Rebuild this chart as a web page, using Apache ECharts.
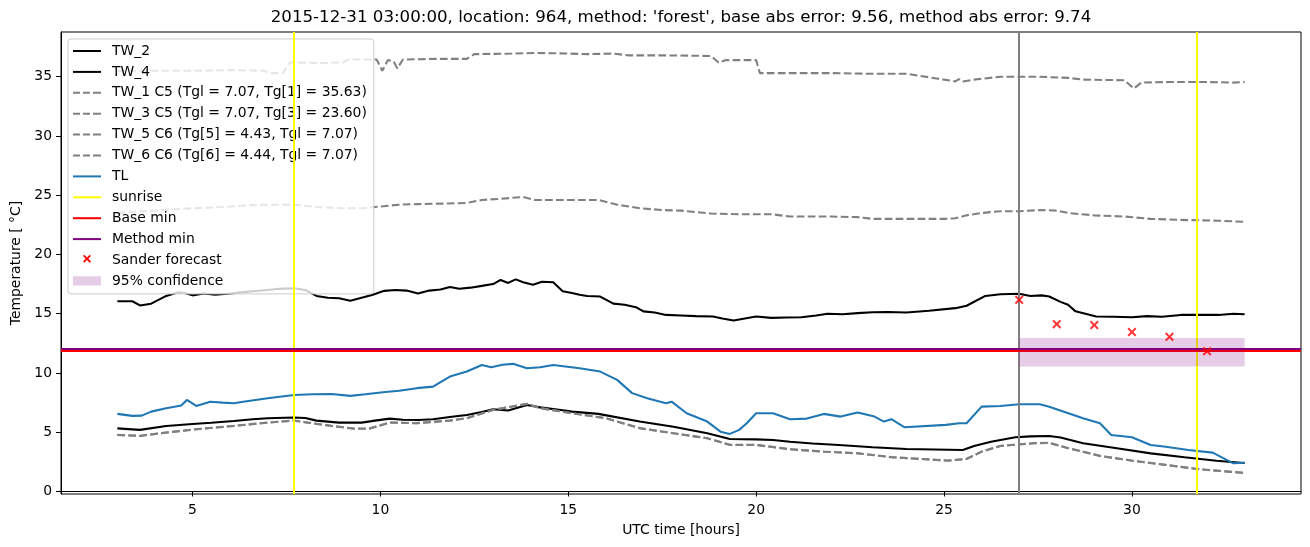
<!DOCTYPE html>
<html><head><meta charset="utf-8">
<script src="https://cdn.jsdelivr.net/npm/echarts@6/dist/echarts.min.js"></script>
<style>html,body{margin:0;padding:0;background:#fff}#c{width:1310px;height:547px}</style>
</head><body><div id="c"></div>
<script>
const titleText = "2015-12-31 03:00:00, location: 964, method: 'forest', base abs error: 9.56, method abs error: 9.74";
const xAxisName = "UTC time [hours]";
const yAxisName = "Temperature [ °C]";
const xTicks = [5, 10, 15, 20, 25, 30];
const yTicks = [0, 5, 10, 15, 20, 25, 30, 35];

const tw2 = [[3.0,16.05],[3.4,16.05],[3.6,15.7],[3.9,15.85],[4.3,16.5],[4.6,16.8],[4.8,16.75],[5.0,16.55],[5.3,16.7],[5.6,16.6],[6.0,16.7],[6.3,16.8],[6.6,16.9],[7.0,17.0],[7.3,17.1],[7.7,17.15],[8.0,17.0],[8.3,16.5],[8.6,16.35],[8.9,16.3],[9.2,16.1],[9.5,16.35],[9.8,16.6],[10.1,16.93],[10.4,17.0],[10.7,16.95],[11.0,16.7],[11.3,16.95],[11.6,17.05],[11.85,17.25],[12.1,17.1],[12.4,17.2],[12.7,17.35],[13.0,17.5],[13.2,17.85],[13.4,17.6],[13.6,17.9],[13.8,17.65],[14.06,17.45],[14.3,17.7],[14.6,17.65],[14.85,16.9],[15.1,16.75],[15.3,16.6],[15.5,16.5],[15.85,16.45],[16.2,15.85],[16.5,15.75],[16.8,15.55],[17.0,15.2],[17.3,15.1],[17.6,14.9],[18.0,14.85],[18.4,14.8],[18.85,14.77],[19.1,14.6],[19.4,14.43],[19.7,14.6],[20.0,14.77],[20.4,14.65],[20.8,14.68],[21.2,14.7],[21.6,14.85],[21.9,15.0],[22.3,14.95],[22.7,15.05],[23.1,15.13],[23.5,15.15],[24.0,15.1],[24.6,15.25],[25.3,15.47],[25.6,15.67],[26.1,16.5],[26.5,16.65],[27.0,16.68],[27.3,16.5],[27.6,16.55],[27.8,16.45],[28.1,16.0],[28.3,15.75],[28.5,15.2],[29.05,14.77],[29.5,14.75],[30.0,14.7],[30.4,14.8],[30.8,14.75],[31.3,14.9],[31.8,14.9],[32.3,14.9],[32.7,15.0],[33.0,14.95]];

const tw4 = [[3.0,5.33],[3.6,5.2],[4.3,5.53],[5.0,5.7],[5.5,5.8],[6.1,5.95],[6.6,6.1],[7.0,6.18],[7.7,6.24],[8.0,6.2],[8.3,5.98],[8.9,5.81],[9.5,5.81],[9.9,6.0],[10.25,6.15],[10.6,6.05],[11.0,6.04],[11.4,6.1],[11.9,6.3],[12.3,6.46],[12.7,6.7],[13.0,6.94],[13.4,6.83],[13.9,7.3],[14.25,7.1],[14.8,6.88],[15.1,6.74],[15.8,6.55],[16.9,5.9],[17.8,5.47],[18.7,4.91],[19.3,4.43],[20.0,4.4],[20.45,4.35],[20.9,4.2],[21.5,4.05],[22.2,3.93],[23.1,3.73],[24.0,3.59],[25.5,3.5],[25.8,3.84],[26.25,4.2],[26.9,4.58],[27.3,4.65],[27.8,4.69],[28.1,4.55],[28.7,4.07],[29.6,3.65],[30.5,3.22],[31.4,2.89],[32.25,2.6],[32.9,2.43],[33.0,2.4]];

const tw1 = [[3.0,35.5],[4.0,35.5],[5.0,35.5],[6.0,35.55],[6.9,35.5],[7.05,35.3],[7.4,35.3],[7.6,36.2],[8.5,36.15],[9.0,36.2],[9.15,36.45],[9.9,36.45],[10.05,35.5],[10.2,36.4],[10.35,36.3],[10.45,35.7],[10.6,36.45],[11.5,36.5],[12.3,36.5],[12.5,36.9],[13.5,36.95],[14.2,37.0],[15.0,36.95],[15.5,36.9],[16.2,36.95],[16.6,36.8],[17.5,36.8],[18.8,36.75],[19.0,36.2],[19.2,36.4],[20.0,36.4],[20.1,35.3],[21.0,35.3],[22.0,35.3],[23.0,35.25],[24.0,35.25],[24.8,34.85],[25.3,34.6],[25.4,34.8],[25.5,34.6],[25.8,34.75],[26.5,35.0],[27.5,35.0],[28.3,34.9],[28.7,34.75],[29.8,34.7],[30.05,34.0],[30.25,34.5],[31.0,34.55],[32.0,34.55],[32.7,34.5],[33.0,34.55]];

const tw3 = [[3.0,23.5],[3.5,23.6],[4.2,23.75],[5.0,23.9],[5.8,24.0],[6.5,24.15],[7.0,24.2],[7.7,24.2],[8.3,24.0],[9.0,23.9],[9.5,23.9],[9.7,23.95],[10.0,24.05],[10.5,24.2],[11.0,24.25],[11.8,24.3],[12.3,24.35],[12.7,24.6],[13.2,24.7],[13.8,24.85],[14.1,24.6],[14.5,24.6],[15.0,24.6],[15.8,24.6],[16.3,24.2],[16.9,23.9],[17.5,23.75],[18.0,23.7],[18.8,23.45],[19.5,23.4],[20.4,23.4],[20.9,23.2],[22.0,23.2],[22.7,23.15],[23.1,23.0],[24.0,23.0],[25.0,23.0],[25.3,23.05],[25.6,23.3],[26.0,23.5],[26.5,23.65],[27.0,23.65],[27.6,23.75],[28.0,23.7],[28.3,23.5],[29.0,23.3],[29.8,23.2],[30.5,23.0],[31.5,22.9],[32.3,22.85],[33.0,22.75]];

const tw5 = [[3.0,4.78],[3.6,4.7],[4.3,4.98],[5.2,5.29],[6.1,5.54],[7.0,5.82],[7.7,5.99],[8.3,5.71],[8.7,5.54],[9.3,5.31],[9.7,5.31],[10.25,5.82],[10.97,5.77],[11.85,5.99],[12.3,6.19],[13.0,6.89],[13.9,7.4],[14.25,7.04],[15.1,6.61],[16.0,6.19],[16.9,5.35],[17.8,4.92],[18.7,4.5],[19.3,3.94],[20.0,3.94],[20.9,3.57],[21.8,3.37],[22.7,3.23],[23.6,2.9],[24.5,2.73],[25.1,2.61],[25.6,2.75],[26.0,3.37],[26.5,3.85],[27.4,4.08],[27.8,4.11],[28.25,3.71],[29.15,3.01],[30.0,2.61],[30.9,2.25],[31.8,1.88],[32.9,1.6],[33.0,1.59]];

const tw6 = [[3.0,4.77],[3.6,4.69],[4.3,4.97],[5.2,5.28],[6.1,5.53],[7.0,5.81],[7.7,5.98],[8.3,5.7],[8.7,5.53],[9.3,5.3],[9.7,5.3],[10.25,5.81],[10.97,5.76],[11.85,5.98],[12.3,6.18],[13.0,6.88],[13.9,7.39],[14.25,7.03],[15.1,6.6],[16.0,6.18],[16.9,5.34],[17.8,4.91],[18.7,4.49],[19.3,3.93],[20.0,3.93],[20.9,3.56],[21.8,3.36],[22.7,3.22],[23.6,2.89],[24.5,2.72],[25.1,2.6],[25.6,2.74],[26.0,3.36],[26.5,3.84],[27.4,4.07],[27.8,4.1],[28.25,3.7],[29.15,3.0],[30.0,2.6],[30.9,2.24],[31.8,1.87],[32.9,1.59],[33.0,1.58]];

const tl = [[3.0,6.55],[3.4,6.38],[3.65,6.4],[3.9,6.74],[4.3,7.03],[4.7,7.25],[4.85,7.73],[5.1,7.22],[5.47,7.58],[5.8,7.5],[6.1,7.45],[6.35,7.58],[7.0,7.87],[7.7,8.15],[8.2,8.2],[8.7,8.23],[9.2,8.07],[9.6,8.2],[10.07,8.38],[10.5,8.5],[10.97,8.72],[11.4,8.85],[11.85,9.7],[12.3,10.12],[12.7,10.68],[12.95,10.49],[13.25,10.7],[13.53,10.77],[13.9,10.4],[14.25,10.49],[14.6,10.68],[15.3,10.4],[15.85,10.12],[16.3,9.42],[16.7,8.3],[17.1,7.87],[17.6,7.45],[17.75,7.58],[18.15,6.6],[18.7,5.9],[19.05,5.05],[19.3,4.86],[19.55,5.2],[19.75,5.76],[20.0,6.6],[20.45,6.6],[20.9,6.1],[21.35,6.15],[21.8,6.55],[22.25,6.32],[22.7,6.66],[23.15,6.32],[23.4,5.9],[23.6,6.1],[23.95,5.42],[25.05,5.62],[25.4,5.76],[25.6,5.76],[26.0,7.16],[26.5,7.22],[27.0,7.36],[27.55,7.36],[27.8,7.16],[28.7,6.18],[29.15,5.76],[29.45,4.77],[30.0,4.58],[30.5,3.93],[30.9,3.78],[31.5,3.5],[32.15,3.28],[32.7,2.38],[33.0,2.43]];

const sunriseHours = [7.7, 31.72];
const forecastStartHour = [27.0];
const baseMinValue = [11.9];
const methodMinValue = [12.05];
const sanderHours = [27, 28, 29, 30, 31, 32];
const sanderValues = [16.17, 14.12, 14.04, 13.45, 13.05, 11.84];
const confHours = [27, 33];
const confRange = [10.54, 12.96];

const FONT = "DejaVu Sans";
const DASH = [7.7, 3.3];
const X_PATH = 'path://M0,1.3L1.3,0L4,2.7L6.7,0L8,1.3L5.3,4L8,6.7L6.7,8L4,5.3L1.3,8L0,6.7L2.7,4Z';
const LEG_SOLID = 'path://M0,0H28V2H0Z';
const LEG_DASH = 'path://M0,0H7V2H0ZM10,0H17V2H10ZM20,0H28V2H20Z';
const LEG_X = 'path://M0,0M28,14M10,3L11.3,1.7L14,4.4L16.7,1.7L18,3L15.3,5.7L18,8.4L16.7,9.7L14,7L11.3,9.7L10,8.4L12.7,5.7Z';
const LEG_PATCH = 'path://M0,0H28V9.3H0Z';

function lineSeries(name, data, color, dashed) {
  return {
    type: 'line', name: name, data: data, symbol: 'none', showSymbol: false,
    lineStyle: { color: color, width: 2.08, type: dashed ? DASH : 'solid', cap: 'butt' },
    itemStyle: { color: color }, silent: true, z: 2
  };
}

const series = [
  lineSeries('TW_2', tw2, '#000000', false),
  lineSeries('TW_4', tw4, '#000000', false),
  lineSeries('TW_1 C5 (Tgl = 7.07, Tg[1] = 35.63)', tw1, '#808080', true),
  lineSeries('TW_3 C5 (Tgl = 7.07, Tg[3] = 23.60)', tw3, '#808080', true),
  lineSeries('TW_5 C6 (Tg[5] = 4.43, Tgl = 7.07)', tw5, '#808080', true),
  lineSeries('TW_6 C6 (Tg[6] = 4.44, Tgl = 7.07)', tw6, '#808080', true),
  lineSeries('TL', tl, '#1f77b4', false),
  {
    type: 'line', name: 'forecast start', data: [], silent: true,
    markLine: { symbol: 'none', silent: true, label: { show: false }, animation: false,
      lineStyle: { color: '#808080', width: 2, type: 'solid' },
      data: forecastStartHour.map(h => ({ xAxis: h })) }
  },
  {
    type: 'line', name: 'sunrise', data: [], itemStyle: { color: '#ffff00' }, silent: true,
    markLine: { symbol: 'none', silent: true, label: { show: false }, animation: false,
      lineStyle: { color: '#ffff00', width: 2, type: 'solid' },
      data: sunriseHours.map(h => ({ xAxis: h })) }
  },
  {
    type: 'line', name: 'Base min', data: [], itemStyle: { color: '#ff0000' }, silent: true,
    markLine: { symbol: 'none', silent: true, label: { show: false }, animation: false,
      lineStyle: { color: '#ff0000', width: 2.08, type: 'solid' },
      data: baseMinValue.map(v => ({ yAxis: v })) }
  },
  {
    type: 'line', name: 'Method min', data: [], itemStyle: { color: '#800080' }, silent: true,
    markLine: { symbol: 'none', silent: true, label: { show: false }, animation: false,
      lineStyle: { color: '#800080', width: 2.08, type: 'solid' },
      data: methodMinValue.map(v => ({ yAxis: v })) }
  },
  {
    type: 'scatter', name: 'Sander forecast', silent: true, z: 6,
    data: sanderHours.map((h, i) => [h, sanderValues[i]]),
    symbol: X_PATH, symbolSize: 9, itemStyle: { color: '#ff0000' }
  },
  {
    type: 'line', name: '95% confidence', data: [], silent: true, itemStyle: { color: 'rgba(128,0,128,0.2)' },
    markArea: { silent: true, z: 6, itemStyle: { color: 'rgba(128,0,128,0.2)' }, label: { show: false },
      data: [[{ xAxis: confHours[0], yAxis: confRange[0] }, { xAxis: confHours[1], yAxis: confRange[1] }]] }
  }
];

const legendItems = [
  { name: 'TW_2', icon: LEG_SOLID, color: '#000000' },
  { name: 'TW_4', icon: LEG_SOLID, color: '#000000' },
  { name: 'TW_1 C5 (Tgl = 7.07, Tg[1] = 35.63)', icon: LEG_DASH, color: '#808080' },
  { name: 'TW_3 C5 (Tgl = 7.07, Tg[3] = 23.60)', icon: LEG_DASH, color: '#808080' },
  { name: 'TW_5 C6 (Tg[5] = 4.43, Tgl = 7.07)', icon: LEG_DASH, color: '#808080' },
  { name: 'TW_6 C6 (Tg[6] = 4.44, Tgl = 7.07)', icon: LEG_DASH, color: '#808080' },
  { name: 'TL', icon: LEG_SOLID, color: '#1f77b4' },
  { name: 'sunrise', icon: LEG_SOLID, color: '#ffff00' },
  { name: 'Base min', icon: LEG_SOLID, color: '#ff0000' },
  { name: 'Method min', icon: LEG_SOLID, color: '#800080' },
  { name: 'Sander forecast', icon: LEG_X, color: '#ff0000' },
  { name: '95% confidence', icon: LEG_PATCH, color: 'rgba(128,0,128,0.2)' }
];

const chart = echarts.init(document.getElementById('c'), null, { renderer: 'canvas' });
chart.setOption({
  animation: false,
  backgroundColor: '#ffffff',
  title: {
    text: titleText, left: 681, top: 9, textAlign: 'center', padding: 0,
    textStyle: { fontFamily: FONT, fontSize: 16.67, fontWeight: 'normal', color: '#000' }
  },
  grid: { left: 61, right: 9, top: 32, bottom: 53, show: true, borderColor: '#000', borderWidth: 1, backgroundColor: 'transparent' },
  legend: {
    orient: 'vertical', left: 68, top: 39, padding: [5, 7, 6, 5],
    itemWidth: 28, itemHeight: 14, itemGap: 6.9, selectedMode: false,
    backgroundColor: 'rgba(255,255,255,0.8)', borderColor: '#cccccc', borderWidth: 1, borderRadius: 3,
    textStyle: { fontFamily: FONT, fontSize: 13.9, color: '#000', padding: [0, 0, 0, 6] },
    data: legendItems.map(it => ({ name: it.name, icon: it.icon, itemStyle: { color: it.color, borderWidth: 0, opacity: 1 } }))
  },
  xAxis: {
    type: 'value', min: 1.5, max: 34.5,
    name: xAxisName, nameLocation: 'middle', nameGap: 29,
    nameTextStyle: { fontFamily: FONT, fontSize: 13.9, color: '#000' },
    axisLine: { show: true, lineStyle: { color: '#000', width: 1 } },
    axisTick: { show: true, length: 5, customValues: xTicks, lineStyle: { color: '#000', width: 1 } },
    axisLabel: { customValues: xTicks, margin: 9, fontFamily: FONT, fontSize: 13.9, color: '#000' },
    splitLine: { show: false }
  },
  yAxis: {
    type: 'value', min: -0.21, max: 38.77,
    name: yAxisName, nameLocation: 'middle', nameGap: 33,
    nameTextStyle: { fontFamily: FONT, fontSize: 13.9, color: '#000' },
    axisLine: { show: true, lineStyle: { color: '#000', width: 1 } },
    axisTick: { show: true, length: 5, customValues: yTicks, lineStyle: { color: '#000', width: 1 } },
    axisLabel: { customValues: yTicks, margin: 9, fontFamily: FONT, fontSize: 13.9, color: '#000' },
    splitLine: { show: false }
  },
  series: series
});
</script></body></html>
